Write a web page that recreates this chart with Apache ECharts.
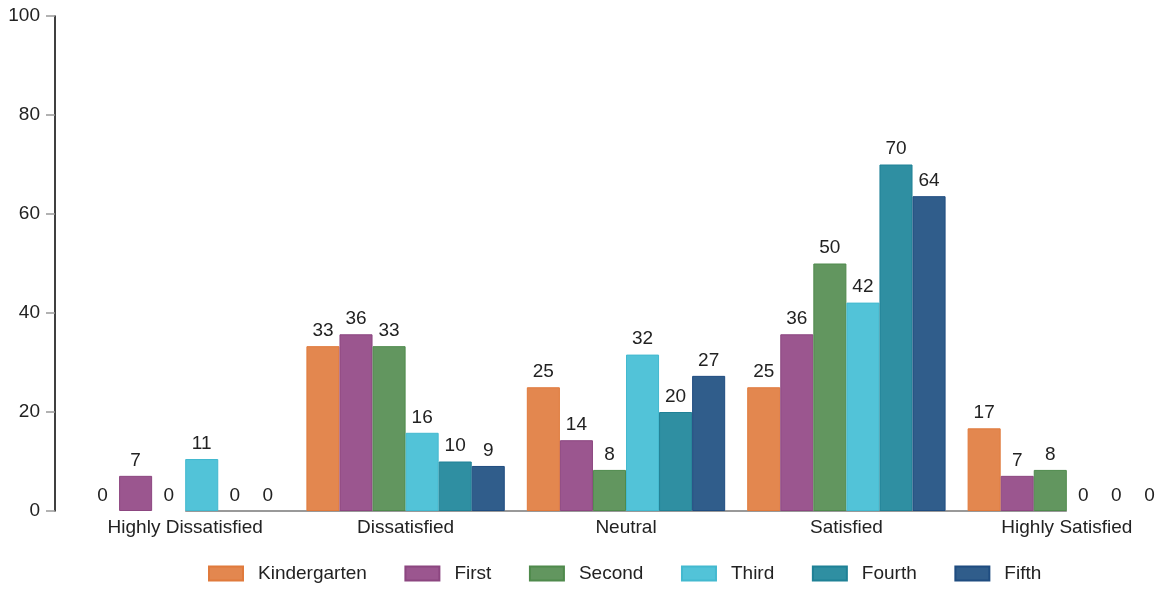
<!DOCTYPE html>
<html>
<head>
<meta charset="utf-8">
<script src="https://cdn.jsdelivr.net/npm/echarts@6/dist/echarts.min.js"></script>
<style>
  html, body { margin: 0; padding: 0; background: #fff; }
  #chart { width: 1162px; height: 589px; }
</style>
</head>
<body>
<div id="chart"></div>
<script>
// categories and percentage values per grade
const categories = ["Highly Dissatisfied", "Dissatisfied", "Neutral", "Satisfied", "Highly Satisfied"];
const kindergarten = [0, 33.3, 25.0, 25.0, 16.7];
const first = [7.1, 35.7, 14.3, 35.7, 7.1];
const second = [0, 33.3, 8.3, 50.0, 8.3];
const third = [10.5, 15.8, 31.6, 42.1, 0];
const fourth = [0, 10.0, 20.0, 70.0, 0];
const fifth = [0, 9.1, 27.3, 63.6, 0];
const yTicks = [0, 20, 40, 60, 80, 100];

const grades = [
  { name: "Kindergarten", data: kindergarten, color: "#e3874f", border: "#e07a3c" },
  { name: "First", data: first, color: "#9b568f", border: "#8c4680" },
  { name: "Second", data: second, color: "#62965f", border: "#4f8a4c" },
  { name: "Third", data: third, color: "#52c3d8", border: "#43b9cf" },
  { name: "Fourth", data: fourth, color: "#2f8fa2", border: "#1f8196" },
  { name: "Fifth", data: fifth, color: "#305d8b", border: "#1f4c80" }
];

const font = "'Liberation Sans', Arial, sans-serif";

let series = grades.map(function (g) {
  return {
    name: g.name,
    type: "bar",
    // zero bars get no border so they don't show as a line
    data: g.data.map(function (v) {
      return v === 0 ? { value: v, itemStyle: { borderWidth: 0 } } : v;
    }),
    barGap: 0,
    barCategoryGap: "10%",
    z: 3,
    itemStyle: { color: g.color, borderColor: g.border, borderWidth: 1 },
    label: {
      show: true,
      position: "top",
      distance: 6,
      color: "#222",
      fontFamily: font,
      fontSize: 19,
      formatter: function (p) { return Math.round(p.value); }
    }
  };
});

// grey baseline running from the first category centre to the last
series.push({
  name: "baseline",
  type: "line",
  data: categories.map(function () { return 0; }),
  symbol: "none",
  silent: true,
  z: 1,
  lineStyle: { color: "#999", width: 2 }
});

let chart = echarts.init(document.getElementById("chart"));
chart.setOption({
  animation: false,
  textStyle: { fontFamily: font },
  legend: {
    left: 203,
    top: 559,
    itemWidth: 34,
    itemHeight: 14,
    itemGap: 37.6,
    icon: "rect",
    textStyle: { color: "#222", fontSize: 19, fontFamily: font, padding: [0, 0, 0, 10] },
    data: grades.map(function (g) { return g.name; })
  },
  grid: { left: 75, top: 16, width: 1102, bottom: 78, containLabel: false, outerBoundsMode: "none" },
  xAxis: {
    type: "category",
    data: categories,
    axisLine: { show: false },
    axisTick: { show: false },
    axisLabel: { color: "#222", fontSize: 19, fontFamily: font, margin: 7 }
  },
  yAxis: {
    type: "value",
    min: yTicks[0],
    max: yTicks[yTicks.length - 1],
    interval: 20,
    offset: 20,
    splitLine: { show: false },
    axisLine: { show: true, lineStyle: { color: "#000", width: 1.5 } },
    axisTick: { show: true, length: 9, lineStyle: { color: "#999", width: 1.5 } },
    axisLabel: { color: "#222", fontSize: 19, fontFamily: font, margin: 15 }
  },
  series: series
});
</script>
</body>
</html>
